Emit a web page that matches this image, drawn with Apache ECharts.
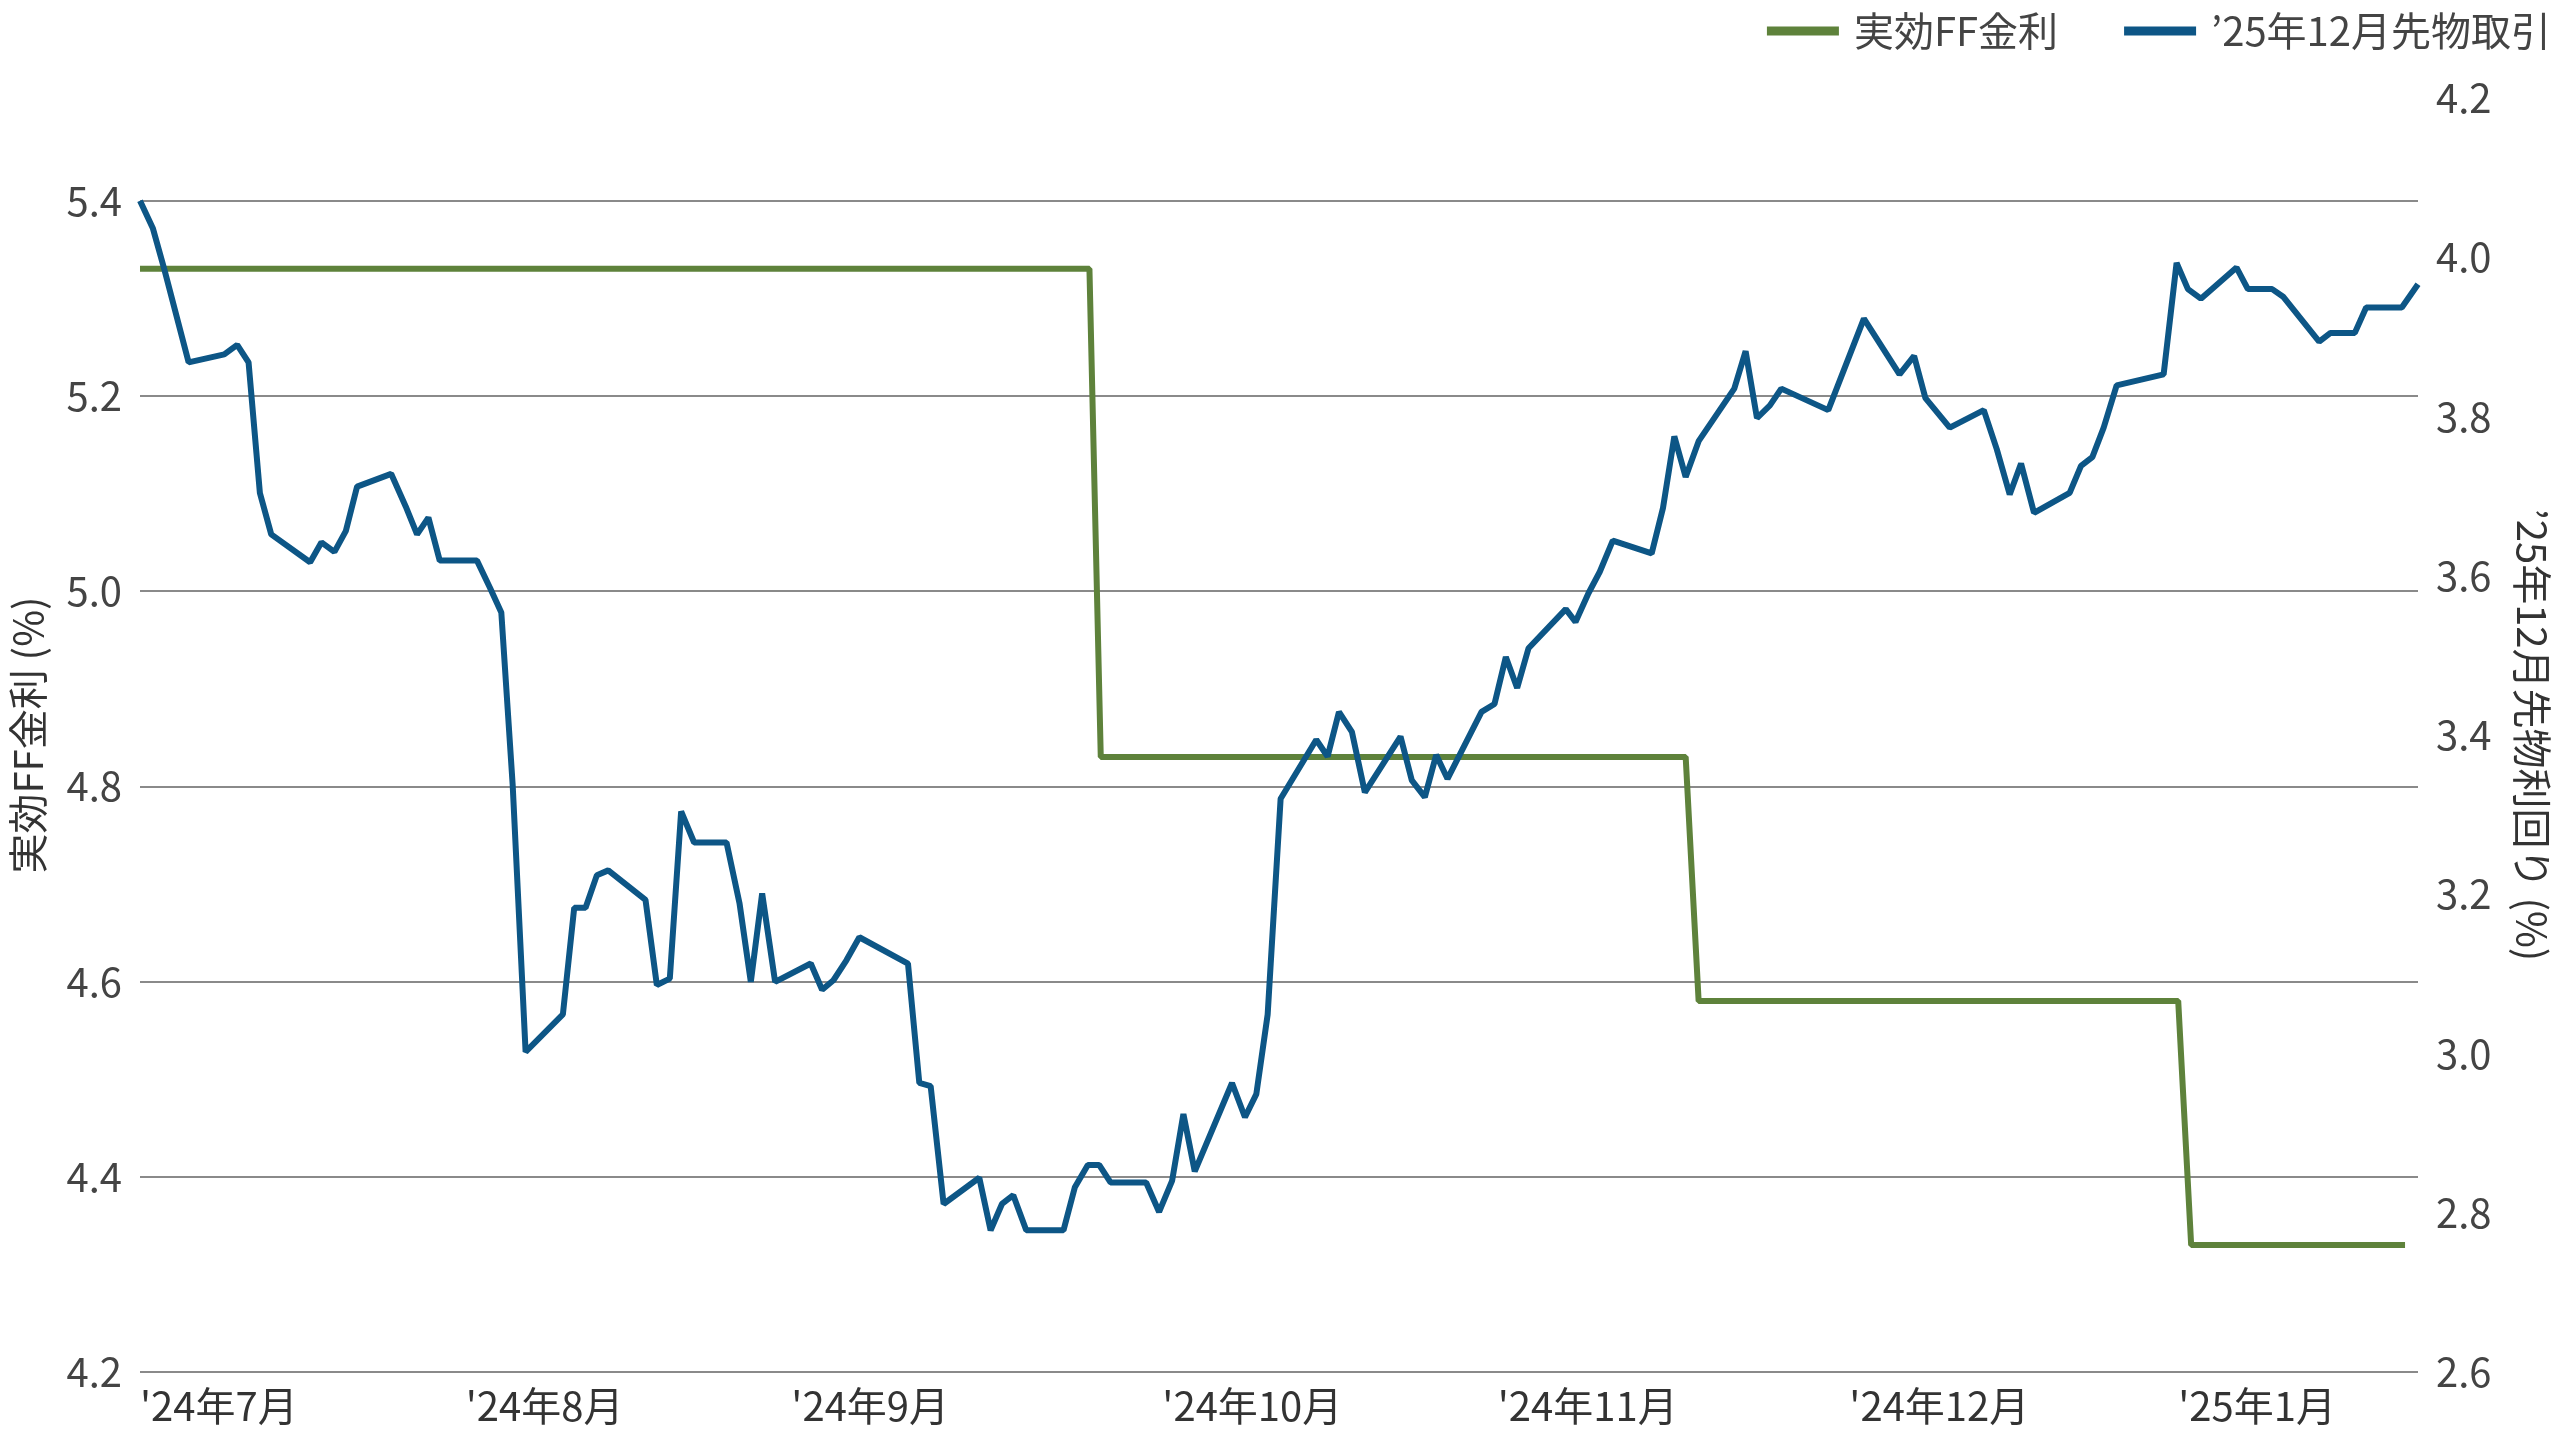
<!DOCTYPE html>
<html>
<head>
<meta charset="utf-8">
<script src="https://cdn.jsdelivr.net/npm/echarts@6/dist/echarts.min.js"></script>
<style>html,body{margin:0;padding:0;background:#fff}#chart{width:2560px;height:1440px}</style>
</head>
<body>
<div id="chart"></div>
<script>
// x = trading-day index from start of Jul 2024
var monthPos = [0, 20.1, 40.2, 63.1, 83.8, 105.5, 125.8];
var monthLabels = ["'24年7月", "'24年8月", "'24年9月", "'24年10月", "'24年11月", "'24年12月", "'25年1月"];

var effDays = [0, 58.6, 59.3, 95.4, 96.2, 125.8, 126.6, 139.8];
var effRate = [5.33, 5.33, 4.83, 4.83, 4.58, 4.58, 4.33, 4.33];

var futDays = [0, 0.8, 1.5, 3, 5.2, 6, 6.7, 7.4, 8.1, 10.5, 11.2, 12, 12.7, 13.4, 15.5, 16.4, 17.1, 17.8, 18.5, 20.8,
  21.6, 22.3, 23, 23.8, 26.1, 26.8, 27.5, 28.2, 28.9, 31.2, 31.9, 32.7, 33.4, 34.2, 36.2, 37, 37.7, 38.4, 39.2, 41.4,
  42.1, 42.8, 43.6, 44.4, 47.4, 48.1, 48.8, 49.6, 51.8, 52.5, 53.2, 53.9, 54.7, 57, 57.7, 58.5, 59.2, 59.9, 62.1, 62.9,
  63.7, 64.4, 65.1, 67.4, 68.2, 68.9, 69.6, 70.4, 72.6, 73.3, 74, 74.8, 75.6, 77.8, 78.5, 79.3, 80, 80.7, 82.8, 83.6,
  84.3, 85, 85.7, 88, 88.6, 89.4, 90.1, 90.9, 93.3, 94, 94.7, 95.4, 96.2, 98.4, 99.1, 99.8, 100.6, 101.3, 104.2, 106.4,
  108.6, 109.5, 110.2, 111.7, 113.8, 114.6, 115.4, 116.1, 116.9, 119.1, 119.8, 120.5, 121.2, 122, 124.9, 125.7, 126.4, 127.2, 129.4, 130.1,
  131.6, 132.3, 134.5, 135.2, 136.7, 137.4, 139.6, 140.6];
var futRate = [4.071, 4.036, 3.985, 3.868, 3.878, 3.890, 3.868, 3.704, 3.652, 3.617, 3.642, 3.630, 3.656, 3.712, 3.728, 3.687, 3.652, 3.673, 3.619, 3.619,
  3.585, 3.554, 3.338, 3.002, 3.049, 3.183, 3.183, 3.224, 3.230, 3.193, 3.086, 3.094, 3.304, 3.265, 3.265, 3.189, 3.090, 3.201, 3.090, 3.113,
  3.080, 3.092, 3.117, 3.146, 3.113, 2.963, 2.959, 2.811, 2.844, 2.778, 2.811, 2.822, 2.778, 2.778, 2.832, 2.860, 2.860, 2.838, 2.838, 2.801,
  2.840, 2.924, 2.852, 2.963, 2.920, 2.949, 3.049, 3.320, 3.394, 3.373, 3.429, 3.404, 3.328, 3.398, 3.343, 3.322, 3.375, 3.345, 3.429, 3.439,
  3.498, 3.459, 3.509, 3.558, 3.542, 3.578, 3.605, 3.644, 3.628, 3.685, 3.775, 3.724, 3.769, 3.835, 3.882, 3.798, 3.814, 3.835, 3.808, 3.923,
  3.853, 3.876, 3.823, 3.786, 3.808, 3.759, 3.702, 3.741, 3.679, 3.704, 3.738, 3.749, 3.786, 3.839, 3.853, 3.993, 3.960, 3.948, 3.987, 3.960,
  3.960, 3.950, 3.894, 3.905, 3.905, 3.937, 3.937, 3.966];

var font = "'Noto Sans CJK JP', 'Noto Sans', sans-serif";
var chart = echarts.init(document.getElementById("chart"));
chart.setOption({
  animation: false,
  textStyle: { fontFamily: font },
  legend: {
    right: 4, top: 6, itemWidth: 72, itemHeight: 9, itemGap: 66, icon: "rect",
    textStyle: { fontSize: 40, color: "#444", fontFamily: font, padding: [0, 0, 0, 10] },
    data: ["実効FF金利", "’25年12月先物取引"]
  },
  grid: { left: 130, right: 116, top: 98, bottom: 68 },
  xAxis: {
    type: "value", min: 0, max: 140.6,
    axisLine: { show: false }, axisTick: { show: false }, splitLine: { show: false },
    axisLabel: {
      customValues: monthPos, align: "left", margin: 14, fontSize: 40, color: "#333",
      formatter: function (v) {
        var i = monthPos.indexOf(v);
        return i >= 0 ? monthLabels[i] : "";
      }
    }
  },
  yAxis: [
    {
      type: "value", min: 4.2, max: 5.505, interval: 0.2,
      name: "実効FF金利 (%)", nameLocation: "middle", nameGap: 92, nameRotate: 90,
      nameTextStyle: { fontSize: 40, color: "#333" },
      axisLine: { show: false }, axisTick: { show: false },
      axisLabel: { showMaxLabel: false, fontSize: 40, color: "#444", margin: 18, formatter: function (v) { return v.toFixed(1); } },
      splitLine: { showMaxLine: false, lineStyle: { color: "#8a8a8a", width: 2 } }
    },
    {
      type: "value", min: 2.6, max: 4.2, interval: 0.2, position: "right",
      name: "’25年12月先物利回り (%)", nameLocation: "middle", nameGap: 94, nameRotate: -90,
      nameTextStyle: { fontSize: 40, color: "#333" },
      axisLine: { show: false }, axisTick: { show: false }, splitLine: { show: false },
      axisLabel: { fontSize: 40, color: "#444", margin: 18, formatter: function (v) { return v.toFixed(1); } }
    }
  ],
  series: [
    {
      name: "実効FF金利", type: "line", yAxisIndex: 0, symbol: "none",
      itemStyle: { color: "#5e823b" }, lineStyle: { color: "#5e823b", width: 6 },
      data: effDays.map(function (d, i) { return [d, effRate[i]]; })
    },
    {
      name: "’25年12月先物取引", type: "line", yAxisIndex: 1, symbol: "none",
      itemStyle: { color: "#0d5686" }, lineStyle: { color: "#0d5686", width: 6 },
      data: futDays.map(function (d, i) { return [d, futRate[i]]; })
    }
  ]
});
</script>
</body>
</html>
